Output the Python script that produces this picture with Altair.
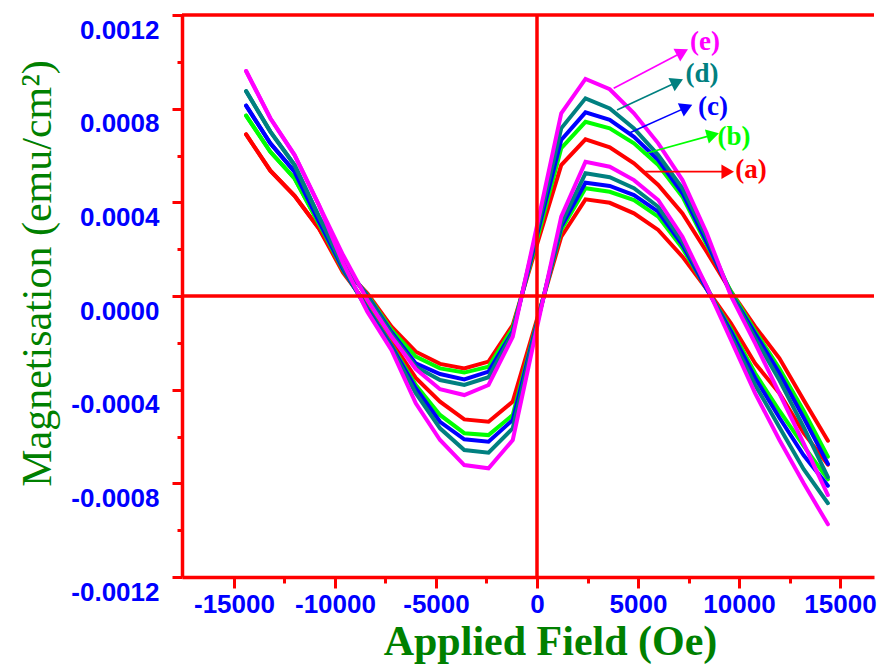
import math
import pandas as pd
import altair as alt

# ---------------- data ----------------
FIELD = [-14400, -13200, -12000, -10800, -9600, -8400, -7200, -6000, -4800, -3600,
         -2400, -1200, 0, 1200, 2400, 3600, 4800, 6000, 7200, 8400, 9600, 10800,
         12000, 13200, 14400]

SAMPLES = ["(a)", "(b)", "(c)", "(d)", "(e)"]
COLORS = ["#FF0000", "#00FF00", "#0000FF", "#008080", "#FF00FF"]

# upper branch (shallow minimum, high maximum)
UP_A = [0.000690, 0.000535, 0.000428, 0.000289, 0.000120, 0.000012, -0.000131, -0.000238,
        -0.000290, -0.000309, -0.000280, -0.000124, 0.000220, 0.000559, 0.000669, 0.000635,
        0.000567, 0.000474, 0.000353, 0.000189, 0.000020, -0.000131, -0.000266, -0.000444,
        -0.000618]
UP_B = [0.000770, 0.000616, 0.000502, 0.000310, 0.000130, 0.000005, -0.000145, -0.000259,
        -0.000309, -0.000327, -0.000302, -0.000137, 0.000240, 0.000631, 0.000744, 0.000716,
        0.000652, 0.000559, 0.000424, 0.000220, 0.000020, -0.000150, -0.000310, -0.000490,
        -0.000686]
UP_C = [0.000813, 0.000652, 0.000531, 0.000320, 0.000140, 0.000000, -0.000155, -0.000288,
        -0.000333, -0.000356, -0.000323, -0.000152, 0.000260, 0.000666, 0.000784, 0.000752,
        0.000680, 0.000581, 0.000439, 0.000230, 0.000010, -0.000160, -0.000330, -0.000520,
        -0.000717]
UP_D = [0.000875, 0.000702, 0.000559, 0.000340, 0.000150, -0.000005, -0.000163, -0.000302,
        -0.000359, -0.000380, -0.000347, -0.000158, 0.000280, 0.000716, 0.000844, 0.000801,
        0.000716, 0.000602, 0.000460, 0.000250, 0.000010, -0.000180, -0.000360, -0.000560,
        -0.000774]
UP_E = [0.000961, 0.000759, 0.000602, 0.000389, 0.000175, -0.000017, -0.000174, -0.000312,
        -0.000398, -0.000423, -0.000380, -0.000174, 0.000300, 0.000780, 0.000927, 0.000883,
        0.000780, 0.000652, 0.000495, 0.000269, 0.000000, -0.000202, -0.000416, -0.000629,
        -0.000850]

# lower branch (deep minimum, low maximum)
LO_A = [0.000690, 0.000535, 0.000428, 0.000289, 0.000100, -0.000038, -0.000195, -0.000350,
        -0.000451, -0.000527, -0.000537, -0.000451, -0.000100, 0.000253, 0.000413, 0.000398,
        0.000353, 0.000282, 0.000168, 0.000030, -0.000117, -0.000288, -0.000415, -0.000585,
        -0.000720]
LO_B = [0.000770, 0.000616, 0.000502, 0.000310, 0.000110, -0.000050, -0.000210, -0.000380,
        -0.000508, -0.000586, -0.000594, -0.000508, -0.000110, 0.000282, 0.000460, 0.000445,
        0.000410, 0.000339, 0.000204, 0.000030, -0.000140, -0.000330, -0.000490, -0.000640,
        -0.000783]
LO_C = [0.000813, 0.000652, 0.000531, 0.000320, 0.000115, -0.000055, -0.000215, -0.000394,
        -0.000537, -0.000612, -0.000622, -0.000529, -0.000115, 0.000296, 0.000484, 0.000470,
        0.000431, 0.000360, 0.000218, 0.000030, -0.000150, -0.000350, -0.000520, -0.000680,
        -0.000810]
LO_D = [0.000875, 0.000702, 0.000559, 0.000340, 0.000125, -0.000060, -0.000222, -0.000415,
        -0.000565, -0.000658, -0.000669, -0.000565, -0.000120, 0.000310, 0.000524, 0.000507,
        0.000460, 0.000381, 0.000232, 0.000040, -0.000170, -0.000380, -0.000560, -0.000740,
        -0.000885]
LO_E = [0.000961, 0.000759, 0.000602, 0.000389, 0.000140, -0.000067, -0.000231, -0.000458,
        -0.000615, -0.000722, -0.000736, -0.000615, -0.000135, 0.000339, 0.000573, 0.000552,
        0.000495, 0.000410, 0.000253, 0.000040, -0.000188, -0.000416, -0.000615, -0.000800,
        -0.000975]

UPPER = [UP_A, UP_B, UP_C, UP_D, UP_E]
LOWER = [LO_A, LO_B, LO_C, LO_D, LO_E]

# annotation labels and arrows (data coordinates)
LABEL_X = [10593, 9752, 8712, 8168, 8316]
LABEL_Y = [0.000538, 0.000679, 0.000807, 0.000948, 0.001085]
ARROW_X0 = [5361, 5282, 4539, 3960, 3797]
ARROW_Y0 = [0.000531, 0.000606, 0.000695, 0.000794, 0.000887]
ARROW_X1 = [9737, 8994, 7673, 7212, 7460]
ARROW_Y1 = [0.000531, 0.000695, 0.000816, 0.000925, 0.001053]

X_TICKS = [-15000, -12500, -10000, -7500, -5000, -2500, 0, 2500, 5000, 7500, 10000, 12500, 15000]
Y_TICKS = [-0.0012, -0.0010, -0.0008, -0.0006, -0.0004, -0.0002, 0.0, 0.0002, 0.0004,
           0.0006, 0.0008, 0.0010, 0.0012]

XMIN, XMAX = -17573, 16682
YMIN, YMAX = -0.0012, 0.0012
W, H = 692, 562

# ---------------- tables ----------------
rows = []
for i, s in enumerate(SAMPLES):
    for branch, series in (("upper", UPPER[i]), ("lower", LOWER[i])):
        for f, m in zip(FIELD, series):
            rows.append({"sample": s, "key": s + branch, "H": f, "M": m})
df = pd.DataFrame(rows)

sx = W / (XMAX - XMIN)
sy = H / (YMAX - YMIN)
arows = []
for i, s in enumerate(SAMPLES):
    dxp = (ARROW_X1[i] - ARROW_X0[i]) * sx
    dyp = -(ARROW_Y1[i] - ARROW_Y0[i]) * sy
    a = math.atan2(dyp, dxp)
    back = 6.0
    arows.append({
        "sample": s,
        "x0": ARROW_X0[i], "y0": ARROW_Y0[i],
        "x1": ARROW_X1[i], "y1": ARROW_Y1[i],
        "hx": ARROW_X1[i] - math.cos(a) * back / sx,
        "hy": ARROW_Y1[i] + math.sin(a) * back / sy,
        "ang": math.degrees(a) % 360,
        "tx": LABEL_X[i], "ty": LABEL_Y[i],
    })
adf = pd.DataFrame(arows)

RED = "#FF0000"
xscale = alt.Scale(domain=[XMIN, XMAX], nice=False, zero=False)
yscale = alt.Scale(domain=[YMIN, YMAX], nice=False, zero=False)
cscale = alt.Scale(domain=SAMPLES, range=COLORS)

xaxis = alt.Axis(
    values=X_TICKS,
    grid=False,
    domainColor=RED, domainWidth=3.5,
    tickColor=RED, tickWidth=3,
    tickSize={"condition": {"test": "datum.value % 5000 === 0", "value": 11}, "value": 6},
    labelExpr="datum.value % 5000 === 0 ? toString(datum.value) : ''",
    labelFont="Liberation Sans", labelFontSize=26, labelFontWeight="bold",
    labelColor="#0000FF", labelPadding=3,
    labelOverlap=False, labelFlush=False, labelBound=False,
    title="Applied Field (Oe)",
    titleFont="Liberation Serif", titleFontSize=42, titleFontWeight="bold",
    titleColor="#008000", titleX=368, titleY=77, titleAlign="center",
    titleBaseline="alphabetic",
)
yaxis = alt.Axis(
    values=Y_TICKS,
    grid=False,
    domainColor=RED, domainWidth=3.5,
    tickColor=RED, tickWidth=3,
    tickSize={"condition": {"test": "abs(round(datum.value*10000)) % 4 === 0", "value": 10}, "value": 5},
    labelExpr="abs(round(datum.value*10000)) % 4 === 0 ? (datum.value < -0.00000001 ? '-' : '') + format(abs(datum.value), '.4f') : ''",
    labelFont="Liberation Sans", labelFontSize=26, labelFontWeight="bold",
    labelColor="#0000FF", labelPadding=13, labelOffset=15,
    labelOverlap=False, labelFlush=False, labelBound=False,
    title="Magnetisation (emu/cm²)",
    titleFont="Liberation Serif", titleFontSize=42, titleFontWeight="normal",
    titleColor="#008000", titleX=-132, titleY=258, titleAlign="center",
    titleBaseline="alphabetic", titleAngle=270,
)

lines = alt.Chart(df).mark_line(strokeWidth=4, strokeCap="round").encode(
    x=alt.X("H:Q", scale=xscale, axis=xaxis),
    y=alt.Y("M:Q", scale=yscale, axis=yaxis),
    color=alt.Color("sample:N", scale=cscale, legend=None),
    detail="key:N",
)

hline_df = pd.DataFrame({"v": [0.0, YMAX]})
hlines = alt.Chart(hline_df).mark_rule(color=RED, strokeWidth=3.5).encode(
    y=alt.Y("v:Q")
)
vline_df = pd.DataFrame({"v": [0.0]})
vlines = alt.Chart(vline_df).mark_rule(color=RED, strokeWidth=3.5).encode(
    x=alt.X("v:Q")
)

arrows = alt.Chart(adf).mark_rule(strokeWidth=1.6).encode(
    x=alt.X("x0:Q"),
    y=alt.Y("y0:Q"),
    x2="hx:Q", y2="hy:Q",
    color=alt.Color("sample:N", scale=cscale, legend=None),
)
heads = alt.Chart(adf).mark_point(shape="triangle-right", filled=True, size=210, opacity=1).encode(
    x=alt.X("hx:Q"),
    y=alt.Y("hy:Q"),
    angle=alt.Angle("ang:Q", scale=None),
    color=alt.Color("sample:N", scale=cscale, legend=None),
)
labels = alt.Chart(adf).mark_text(font="Liberation Serif", fontSize=27, fontWeight="bold").encode(
    x=alt.X("tx:Q"),
    y=alt.Y("ty:Q"),
    text="sample:N",
    color=alt.Color("sample:N", scale=cscale, legend=None),
)

chart = alt.layer(lines, hlines, vlines, arrows, heads, labels).properties(
    width=W, height=H,
    padding={"left": 174, "top": 7, "right": 3, "bottom": 87},
    autosize=alt.AutoSizeParams(type="none"),
).configure_view(strokeOpacity=0)

chart.save("out.html", embed_options={"renderer": "svg", "actions": False})
